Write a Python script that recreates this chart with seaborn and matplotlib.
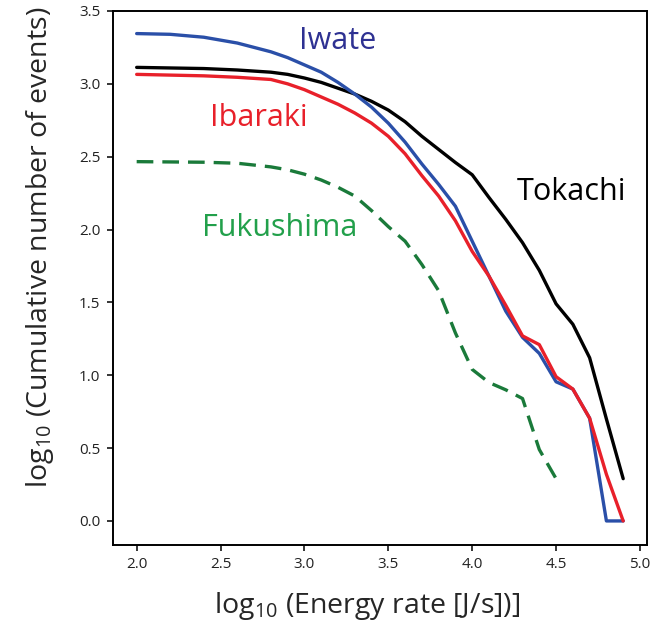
import matplotlib
matplotlib.use("Agg")
import matplotlib.pyplot as plt
import seaborn as sns
import pandas as pd

# Data (log10 energy rate vs log10 cumulative number of events)
x_iwate = [2.0, 2.2, 2.4, 2.6, 2.8, 2.9, 3.0, 3.1, 3.2, 3.3, 3.4, 3.5, 3.6, 3.7, 3.8, 3.9, 4.0, 4.1, 4.2, 4.3, 4.4, 4.5, 4.6, 4.7, 4.8, 4.9]
y_iwate = [3.345, 3.34, 3.32, 3.28, 3.22, 3.18, 3.13, 3.08, 3.01, 2.93, 2.84, 2.73, 2.60, 2.45, 2.31, 2.16, 1.92, 1.68, 1.44, 1.26, 1.15, 0.955, 0.905, 0.705, 0.0, 0.0]

x_ibaraki = [2.0, 2.4, 2.6, 2.8, 2.9, 3.0, 3.1, 3.2, 3.3, 3.4, 3.5, 3.6, 3.7, 3.8, 3.9, 4.0, 4.1, 4.2, 4.3, 4.4, 4.5, 4.6, 4.7, 4.8, 4.9]
y_ibaraki = [3.065, 3.055, 3.045, 3.03, 3.00, 2.96, 2.91, 2.86, 2.80, 2.73, 2.64, 2.52, 2.37, 2.23, 2.06, 1.85, 1.68, 1.48, 1.27, 1.21, 0.99, 0.905, 0.705, 0.32, 0.0]

x_tokachi = [2.0, 2.4, 2.6, 2.8, 2.9, 3.0, 3.1, 3.2, 3.3, 3.4, 3.5, 3.6, 3.7, 3.8, 3.9, 4.0, 4.1, 4.2, 4.3, 4.4, 4.5, 4.6, 4.7, 4.8, 4.9]
y_tokachi = [3.113, 3.105, 3.095, 3.08, 3.065, 3.04, 3.01, 2.97, 2.93, 2.88, 2.82, 2.74, 2.64, 2.55, 2.46, 2.376, 2.22, 2.07, 1.91, 1.72, 1.49, 1.35, 1.12, 0.70, 0.29]

x_fukushima = [2.0, 2.4, 2.6, 2.8, 2.9, 3.0, 3.1, 3.2, 3.3, 3.4, 3.5, 3.6, 3.7, 3.8, 3.9, 4.0, 4.1, 4.2, 4.3, 4.4, 4.5]
y_fukushima = [2.466, 2.462, 2.455, 2.43, 2.41, 2.38, 2.34, 2.29, 2.23, 2.13, 2.02, 1.92, 1.76, 1.58, 1.29, 1.04, 0.95, 0.90, 0.84, 0.49, 0.29]

series_names = ["Iwate", "Ibaraki", "Tokachi", "Fukushima"]

sns.set_theme(style="white")
plt.rcParams["font.family"] = ["Open Sans", "DejaVu Sans"]
plt.rcParams["mathtext.default"] = "regular"

fig = plt.figure(figsize=(6.54, 6.32), dpi=100)
ax = fig.add_axes([0.1723, 0.1377, 0.8170, 0.8449])

line_specs = {
    "Iwate": (x_iwate, y_iwate, "#2a4fa8", ""),
    "Ibaraki": (x_ibaraki, y_ibaraki, "#e8202a", ""),
    "Tokachi": (x_tokachi, y_tokachi, "#000000", ""),
    "Fukushima": (x_fukushima, y_fukushima, "#1a7a3a", (5, 2.7)),
}
order = ["Tokachi", "Fukushima", "Iwate", "Ibaraki"]
for name in order:
    xs, ys, col, dash = line_specs[name]
    df = pd.DataFrame({"x": xs, "y": ys})
    sns.lineplot(data=df, x="x", y="y", ax=ax, color=col, linewidth=2.4,
                 sort=False, estimator=None)
    ln = ax.lines[-1]
    if dash:
        ln.set_dashes(dash)

ax.set_xlim(1.857, 5.042)
ax.set_ylim(-0.165, 3.5)
ax.set_xticks([2.0, 2.5, 3.0, 3.5, 4.0, 4.5, 5.0])
ax.set_yticks([0.0, 0.5, 1.0, 1.5, 2.0, 2.5, 3.0, 3.5])
ax.set_xticklabels(["2.0", "2.5", "3.0", "3.5", "4.0", "4.5", "5.0"])
ax.set_yticklabels(["0.0", "0.5", "1.0", "1.5", "2.0", "2.5", "3.0", "3.5"])
ax.tick_params(axis="both", which="major", direction="out", length=4, width=1.1,
               labelsize=11, labelcolor="#222222", color="black", pad=5,
               bottom=True, left=True)
for sp in ax.spines.values():
    sp.set_color("black")
    sp.set_linewidth(1.4)

ax.set_xlabel(r"log$_{10}$ (Energy rate [J/s])]", fontsize=20.5)
ax.set_ylabel(r"log$_{10}$ (Cumulative number of events)", fontsize=20.5)
ax.xaxis.set_label_coords(0.476, -0.084)
ax.yaxis.set_label_coords(-0.106, 0.558)

label_font = 22
ax.text(2.967, 3.240, "Iwate", color="#2e3192", fontsize=label_font, ha="left", va="baseline")
ax.text(2.437, 2.708, "Ibaraki", color="#e8202a", fontsize=label_font, ha="left", va="baseline")
ax.text(4.265, 2.205, "Tokachi", color="black", fontsize=label_font, ha="left", va="baseline")
ax.text(2.387, 1.953, "Fukushima", color="#22a04b", fontsize=label_font, ha="left", va="baseline")

fig.savefig("out.png", dpi=100)
